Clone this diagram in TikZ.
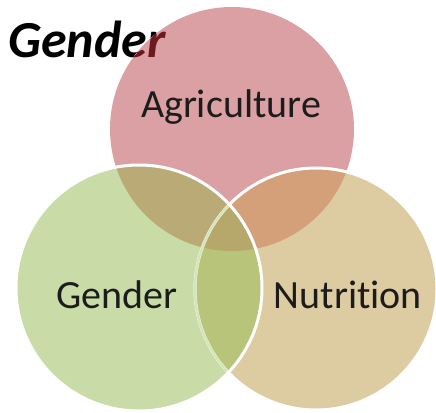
\documentclass[tikz,border=0pt]{standalone}
\usepackage{fontspec}
\setmainfont{Carlito}[Ligatures={NoCommon}]
\definecolor{cAgri}{RGB}{218,160,163}
\definecolor{cGen}{RGB}{201,219,166}
\definecolor{cNut}{RGB}{221,203,161}
\definecolor{cAG}{RGB}{186,170,118}
\definecolor{cAN}{RGB}{211,160,121}
\definecolor{cGN}{RGB}{184,196,121}
\definecolor{cAGN}{RGB}{181,168,106}
\definecolor{cFaint}{RGB}{214,228,186}
\definecolor{cTitleRed}{RGB}{110,24,32}
\definecolor{cText}{RGB}{28,28,28}
\tikzset{
  titletext/.style={font=\fontsize{52}{58}\selectfont\bfseries\itshape, inner sep=0pt, anchor=base west},
  labeltext/.style={font=\fontsize{40}{46}\selectfont, text=cText, inner sep=0pt, anchor=base},
  outline/.style={draw=white, line width=3pt},
  faintline/.style={draw=cFaint, line width=2.5pt}
}
\begin{document}
\begin{tikzpicture}[x=1pt,y=-1pt]
\useasboundingbox (0,0) rectangle (436,412);
\def\circA{(232,129) circle (122)}
\def\circG{(139,288) circle (123)}
\def\circN{(316,289) circle (121)}
% title under the circles
\node[titletext, text=black] (title) at (8,57) {Gender};
% single regions
\fill[cAgri] \circA;
\fill[cGen] \circG;
\fill[cNut] \circN;
% pairwise overlaps
\begin{scope}\clip \circA; \fill[cAG] \circG; \end{scope}
\begin{scope}\clip \circA; \fill[cAN] \circN; \end{scope}
\begin{scope}\clip \circG; \fill[cGN] \circN; \end{scope}
% triple overlap
\begin{scope}\clip \circA; \clip \circG; \fill[cAGN] \circN; \end{scope}
% title part seen through the pink circle
\begin{scope}\clip \circA;
\node[titletext, text=cTitleRed] (titleshade) at (8,57) {Gender};
\end{scope}
% outlines
\draw[outline] \circN;
\begin{scope}\clip \circG; \draw[faintline] \circN; \end{scope}
\draw[outline] \circG;
% labels
\node[labeltext] (agri) at (231,117) {Agriculture};
\node[labeltext] (gender) at (117,308) {Gender};
\node[labeltext] (nutr) at (348,308) {Nutrition};
\end{tikzpicture}
\end{document}
